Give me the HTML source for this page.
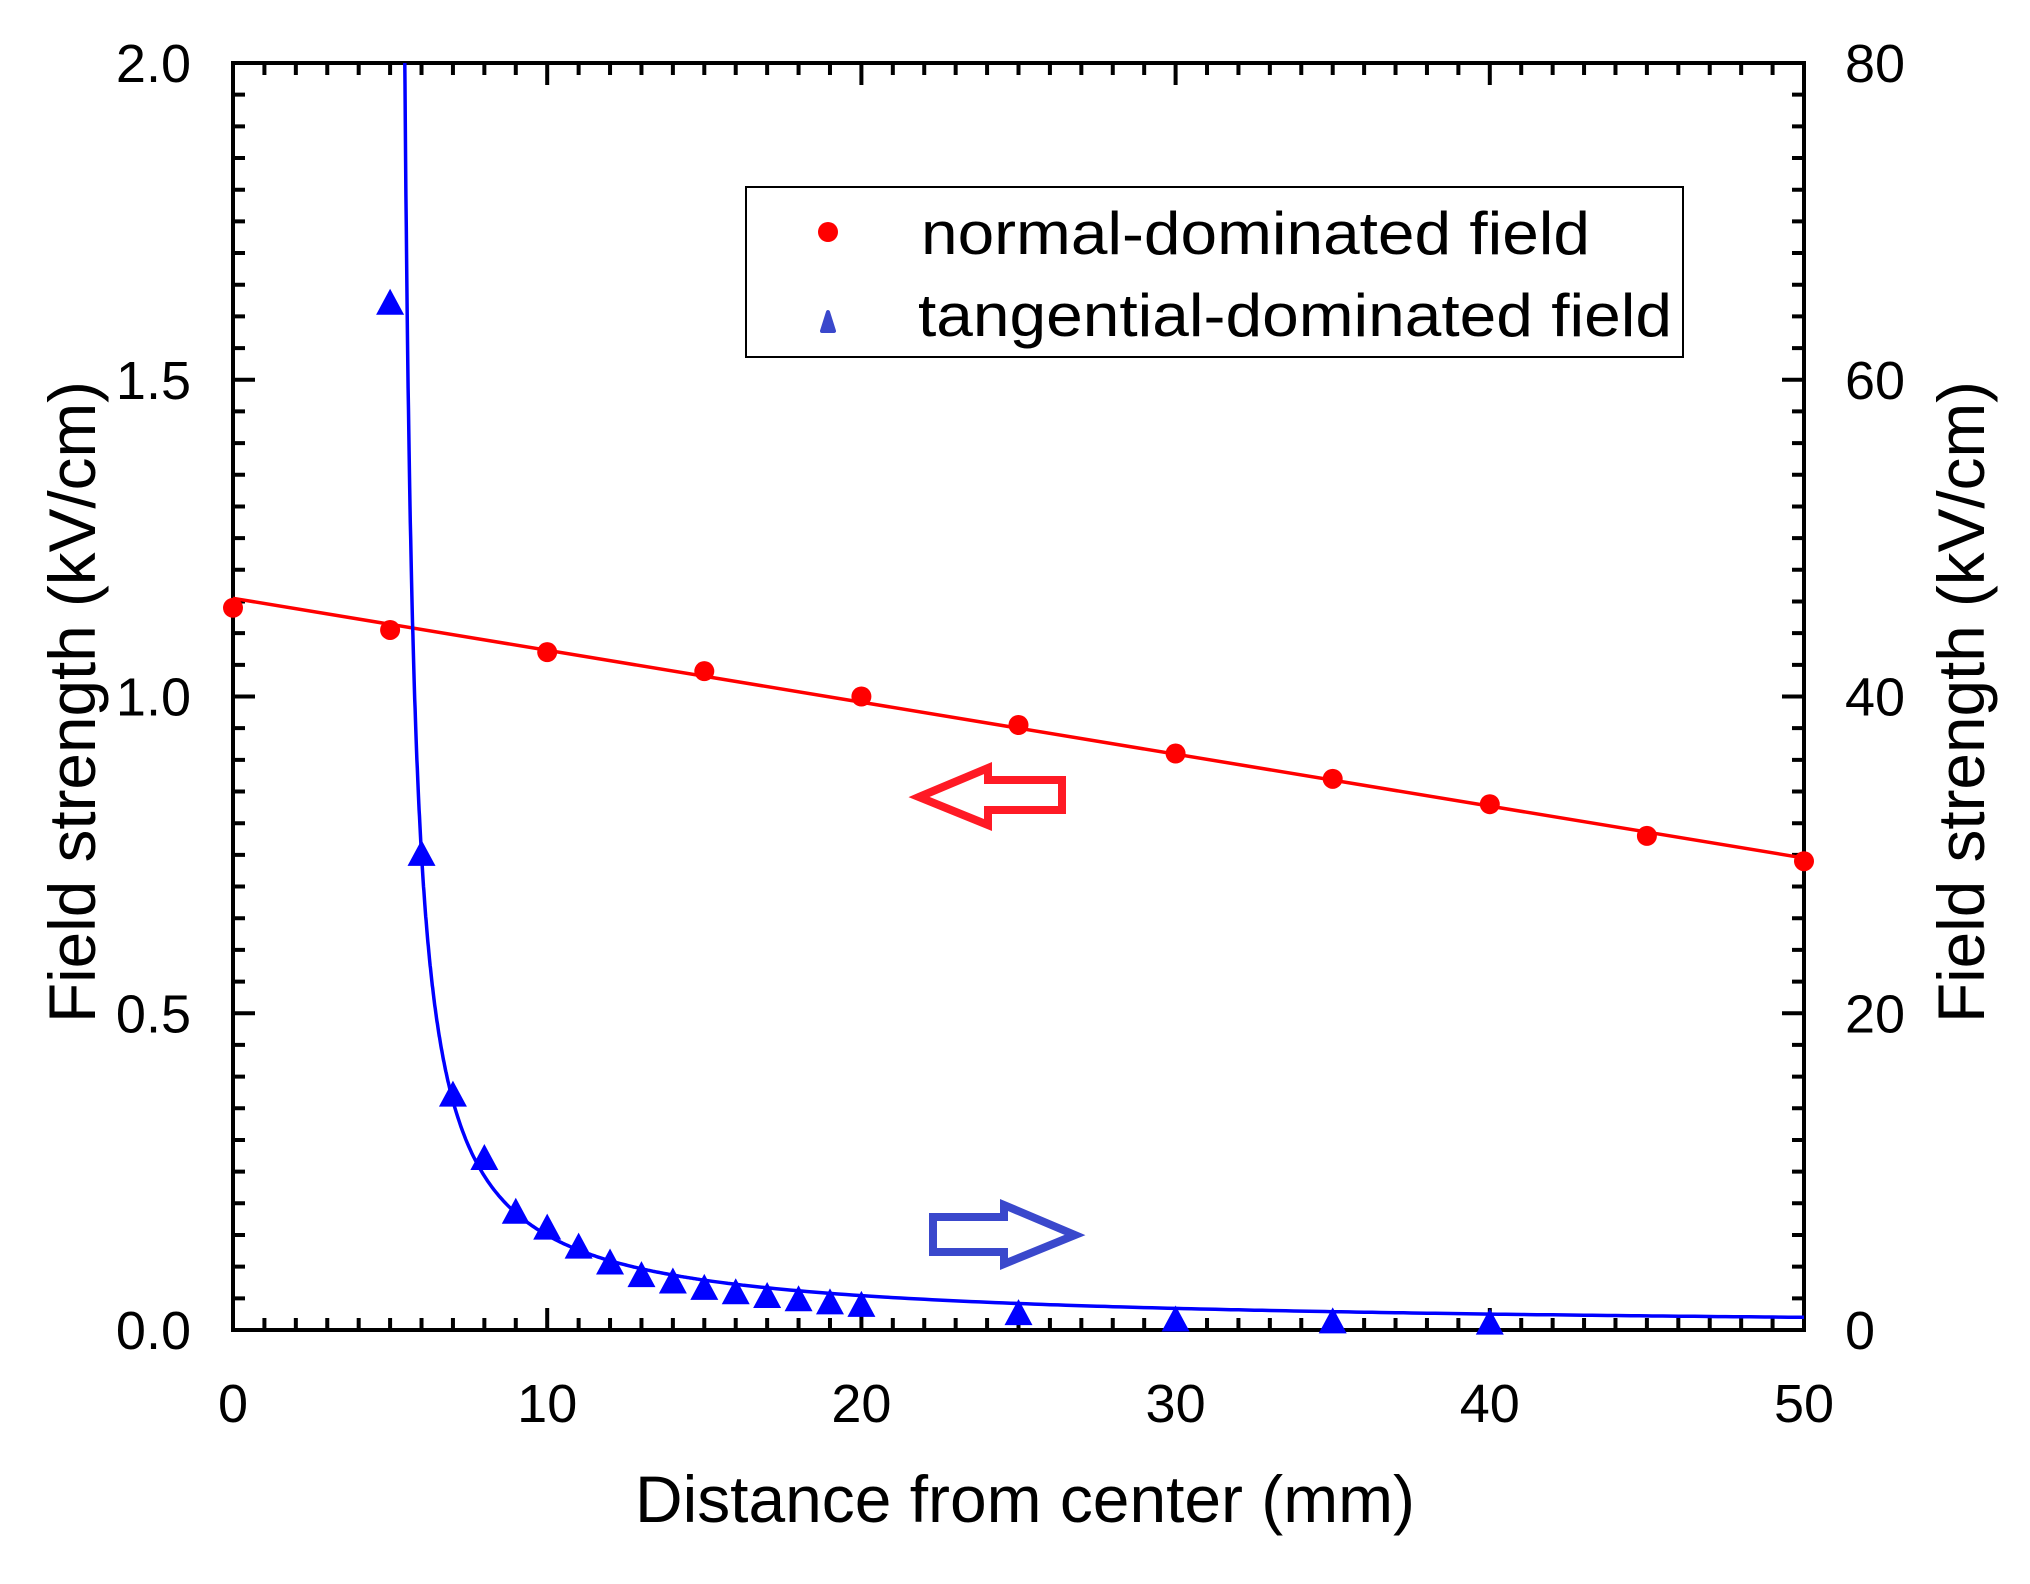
<!DOCTYPE html>
<html><head><meta charset="utf-8"><style>
html,body{margin:0;padding:0;background:#fff;}
svg{display:block;}
text{font-family:"Liberation Sans",Arial,sans-serif;fill:#000;}
</style></head><body>
<svg id="s" width="2030" height="1584" viewBox="0 0 2030 1584" xmlns="http://www.w3.org/2000/svg">
<g id="ticks" stroke="#000" stroke-width="4"></g>
<rect x="233" y="63" width="1571" height="1267" fill="none" stroke="#000" stroke-width="4"/>
<g id="series"></g>
<rect x="746" y="187" width="937" height="170" fill="none" stroke="#000" stroke-width="2"/>
<circle cx="828" cy="232" r="10" fill="#ff0000"/>
<path d="M822,331 L828,312 L834,331 Z" fill="#3a48cc" stroke="#3a48cc" stroke-width="4" stroke-linejoin="round"/>
<text x="921" y="254" font-size="60" textLength="669" lengthAdjust="spacingAndGlyphs">normal-dominated field</text>
<text x="918" y="336" font-size="60" textLength="754" lengthAdjust="spacingAndGlyphs">tangential-dominated field</text>
<path d="M919,797 L988,768 L988,780 L1062,780 L1062,810 L988,810 L988,825 Z" fill="none" stroke="#ff1a25" stroke-width="8" stroke-linejoin="miter"/>
<path d="M933,1217 L1004,1217 L1004,1205 L1075,1235 L1004,1264 L1004,1252 L933,1252 Z" fill="none" stroke="#3a48cc" stroke-width="8" stroke-linejoin="miter"/>
<g id="labels" font-size="54"></g>
<text x="1025" y="1522" font-size="66" text-anchor="middle" textLength="780" lengthAdjust="spacingAndGlyphs">Distance from center (mm)</text>
<text transform="translate(95,702) rotate(-90)" font-size="66" text-anchor="middle" textLength="642" lengthAdjust="spacingAndGlyphs">Field strength (kV/cm)</text>
<text transform="translate(1984,702) rotate(-90)" font-size="66" text-anchor="middle" textLength="642" lengthAdjust="spacingAndGlyphs">Field strength (kV/cm)</text>
</svg>
<script>
var NS="http://www.w3.org/2000/svg";
function el(p,t,a,txt){var e=document.createElementNS(NS,t);for(var k in a)e.setAttribute(k,a[k]);if(txt!==undefined)e.textContent=txt;p.appendChild(e);return e;}
var X0=233,X1=1804,Y0=1330,Y1=63;
function px(v){return X0+v*(X1-X0)/50;}
function py(v){return Y0-v*(Y0-Y1)/2;}
var tk=document.getElementById('ticks'),lb=document.getElementById('labels'),se=document.getElementById('series');
var d="";
for(var i=0;i<=50;i++){var x=px(i),L=(i%10==0)?22:12;
 d+="M"+x+","+Y0+"v"+(-L)+"M"+x+","+Y1+"v"+L;}
for(var j=0;j<=40;j++){var y=py(j*0.05),L=(j%10==0)?22:12;
 d+="M"+X0+","+y+"h"+L+"M"+X1+","+y+"h"+(-L);}
el(tk,'path',{d:d,fill:'none'});
for(var i=0;i<=5;i++){el(lb,'text',{x:px(i*10),y:1422,'text-anchor':'middle'},String(i*10));}
var yl=["0.0","0.5","1.0","1.5","2.0"],yr=["0","20","40","60","80"];
for(var j=0;j<5;j++){var y=py(j*0.5)+19;
 el(lb,'text',{x:191,y:y,'text-anchor':'end'},yl[j]);
 el(lb,'text',{x:1845,y:y,'text-anchor':'start'},yr[j]);}
// red
el(se,'line',{x1:px(0),y1:py(1.155),x2:px(50),y2:py(0.745),stroke:'#ff0000','stroke-width':3.5});
var rp=[[0,1.14],[5,1.105],[10,1.07],[15,1.04],[20,1.0],[25,0.955],[30,0.91],[35,0.87],[40,0.83],[45,0.78],[50,0.74]];
rp.forEach(function(p){el(se,'circle',{cx:px(p[0]),cy:py(p[1]),r:10,fill:'#ff0000'});});
// blue
var A=0.614,C=5.2,P=0.9;
function f(x){return A/Math.pow(x-C,P);}
var xs=C+Math.pow(A/2.0,1/P);
var pts=[px(xs).toFixed(1)+","+py(2.0).toFixed(1)];
var x=xs+0.005;while(x<=50){pts.push(px(x).toFixed(1)+","+py(f(x)).toFixed(1));x+=(x<7?0.01:(x<15?0.05:0.25));}
pts.push(px(50).toFixed(1)+","+py(f(50)).toFixed(1));
el(se,'polyline',{points:pts.join(" "),fill:'none',stroke:'#0000ff','stroke-width':3.5});
var bp=[[5,1.62],[6,0.75],[7,0.37],[8,0.27],[9,0.185],[10,0.16],[11,0.13],[12,0.105],[13,0.085],[14,0.075],[15,0.065],[16,0.058],[17,0.052],[18,0.047],[19,0.042],[20,0.038],[25,0.025],[30,0.015],[35,0.012],[40,0.01]];
bp.forEach(function(p){var cx=px(p[0]),cy=py(p[1]);
 el(se,'path',{d:"M"+(cx-14)+","+(cy+11)+"L"+cx+","+(cy-15)+"L"+(cx+14)+","+(cy+11)+"Z",fill:'#0000ff'});});
</script>
</body></html>
